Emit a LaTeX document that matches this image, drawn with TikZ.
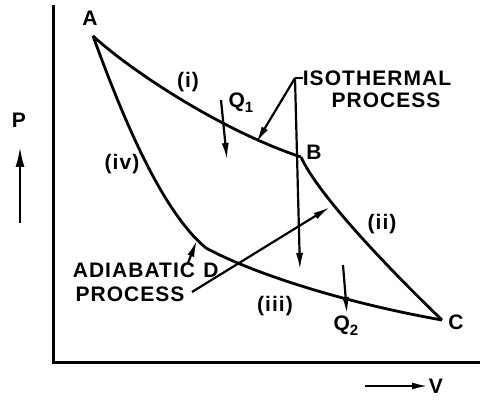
\documentclass[tikz,border=0pt]{standalone}
\usepackage{fontspec}
\setmainfont{Liberation Sans}[LetterSpace=5]
\usetikzlibrary{arrows.meta}
\newcommand{\lowsub}[1]{\raisebox{-5pt}{\fontsize{15}{15}\selectfont #1}}
\begin{document}
\begin{tikzpicture}[x=1pt,y=-1pt,
  curve/.style={line width=2.8pt,line join=round},
  axis/.style={line width=3pt},
  leader/.style={line width=2.2pt},
  head/.style={-{Latex[length=17pt,width=7pt]}},
  lab/.style={font=\bfseries\fontsize{21}{23}\selectfont,inner sep=0pt,anchor=center}]
\useasboundingbox (0,0) rectangle (480,401);
% axes
\coordinate (o) at (53,362);
\coordinate (ytop) at (53,5);
\coordinate (xend) at (480,362);
\draw[axis] (ytop) -- (o) -- (xend);
% cycle corners
\coordinate (pA) at (93,36);
\coordinate (pB) at (301,157);
\coordinate (pC) at (442,320);
\coordinate (pD) at (206,248);
\draw[curve] (pA) .. controls (130,70) and (220,130) .. (pB);
\draw[curve] (pB) .. controls (318,195) and (390,270) .. (pC);
\draw[curve] (pD) .. controls (250,272) and (340,302) .. (pC);
\draw[curve] (pA) .. controls (120,110) and (160,210) .. (pD);
% corner labels
\node[lab] (A) at (90,18) {A};
\node[lab] (B) at (314,152) {B};
\node[lab] (C) at (456,322) {C};
\node[lab] (D) at (211,270) {D};
% process labels
\node[lab] (i) at (188,82) {(i)};
\node[lab] (ii) at (382,224) {(ii)};
\node[lab] (iii) at (275,306) {(iii)};
\node[lab] (iv) at (122,164) {(iv)};
\node[lab] (Q1) at (241,103) {Q\lowsub{1}};
\node[lab] (Q2) at (346,326) {Q\lowsub{2}};
% heat arrows
\coordinate (q1s) at (221,100);
\coordinate (q1e) at (227,160);
\draw[leader,head] (q1s) -- (q1e);
\coordinate (q2s) at (343,265);
\coordinate (q2e) at (347,314);
\draw[leader,head] (q2s) -- (q2e);
% isothermal label and leaders
\node[lab] (iso1) at (377,78) {ISOTHERMAL};
\node[lab] (iso2) at (386,100) {PROCESS};
\coordinate (J) at (295,78);
\coordinate (t1) at (256,143);
\coordinate (t2) at (300,270);
\draw[leader] (J) -- (iso1.west);
\draw[leader,head] (J) -- (t1);
\draw[leader,head] (J) -- (t2);
% adiabatic label and leaders
\node[lab] (adi1) at (134,270) {ADIABATIC};
\node[lab] (adi2) at (130,294) {PROCESS};
\coordinate (a3) at (192,292);
\coordinate (t3) at (330,207);
\coordinate (t4) at (197,240);
\coordinate (a4) at (188,263);
\draw[leader,head] (a3) -- (t3);
\draw[leader,head] (a4) -- (t4);
% axis labels
\node[lab] (P) at (19,120) {P};
\coordinate (ps) at (20,223);
\coordinate (pe) at (20,147);
\draw[leader,-{Latex[length=20pt,width=9pt]}] (ps) -- (pe);
\node[lab] (V) at (436,386) {V};
\coordinate (vs) at (365,386);
\coordinate (ve) at (428,386);
\draw[leader,-{Latex[length=16pt,width=7pt]}] (vs) -- (ve);
\end{tikzpicture}
\end{document}
